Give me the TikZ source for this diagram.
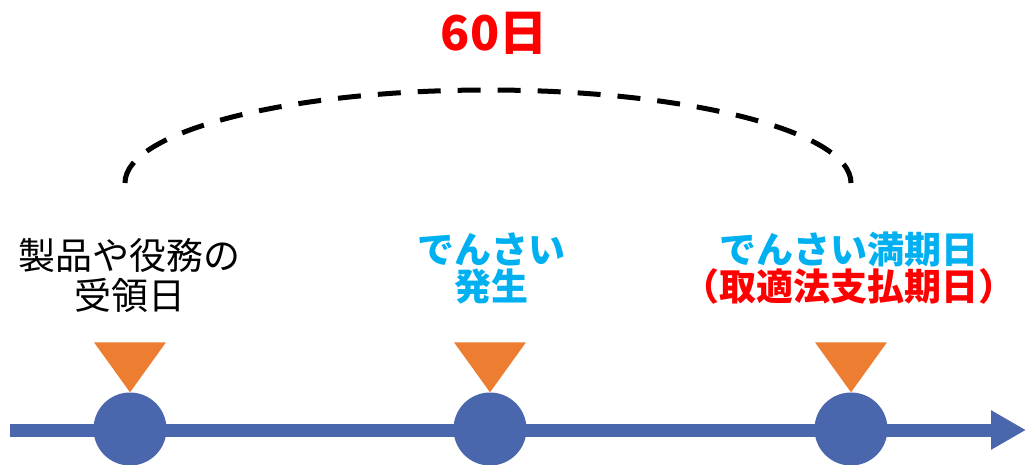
\documentclass[tikz,border=0pt]{standalone}
\usepackage{fontspec}
\newfontfamily\jp{Noto Sans CJK JP}
\usetikzlibrary{arrows.meta}
\definecolor{lineblue}{HTML}{4A66AC}
\definecolor{triorange}{HTML}{ED7D31}
\definecolor{textblue}{HTML}{00B0F0}
\definecolor{textred}{HTML}{FF0000}
\begin{document}
\begin{tikzpicture}[x=1pt,y=-1pt,
  dot/.style={circle,fill=lineblue,minimum size=73pt,inner sep=0pt},
  marker/.style={fill=triorange},
  lbl/.style={align=center,inner sep=0pt,font=\jp\fontsize{37}{40}\selectfont},
  bluelbl/.style={lbl,text=textblue,font=\jp\bfseries\fontsize{37}{37}\selectfont},
  span/.style={line width=5pt,dash pattern=on 23pt off 17pt}
]
\useasboundingbox (0,0) rectangle (1026,464);
% timeline
\coordinate (start) at (10,430);
\coordinate (end) at (1026,430);
\draw[line width=13pt,lineblue,-{Triangle[length=35pt,width=37pt]}] (start) -- (end);
% points
\node[dot] (p1) at (130,429) {};
\node[dot] (p2) at (490,429) {};
\node[dot] (p3) at (851,429) {};
% markers
\foreach \p in {p1,p2,p3}{
  \fill[marker] ([yshift=50pt]\p.north) -- ++(-36,0) -- ++(36,50) -- ++(36,-50) -- cycle;
}
% labels
\node[lbl] (l1) at (130,275) {製品や役務の\\受領日};
\node[bluelbl] (l2) at (491,268) {でんさい\\発生};
\node[bluelbl] (l3) at (849,268) {でんさい満期日\\\textcolor{textred}{（取適法支払期日）}};
% span
\coordinate (a1) at (125,183);
\draw[span] (a1) arc[start angle=180,end angle=0,x radius=363,y radius=-93] coordinate (a2);
\node[font=\jp\bfseries\fontsize{48}{50}\selectfont,text=textred,inner sep=0pt] (d) at (494,33) {60日};
\end{tikzpicture}
\end{document}
